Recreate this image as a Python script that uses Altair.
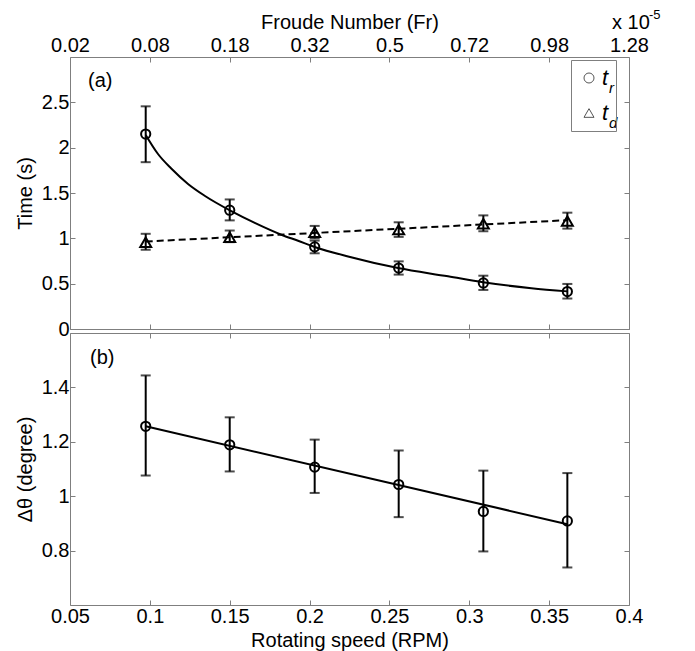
import json
import altair as alt
import pandas as pd

# ---------------- data ----------------
rpm = [0.0974, 0.1500, 0.2032, 0.2558, 0.3088, 0.3614]

t_r = [2.150, 1.310, 0.906, 0.672, 0.508, 0.413]
t_r_lo = [1.840, 1.198, 0.835, 0.600, 0.431, 0.336]
t_r_hi = [2.456, 1.429, 0.975, 0.746, 0.588, 0.497]

t_d = [0.958, 1.012, 1.067, 1.096, 1.162, 1.192]
t_d_lo = [0.874, 0.958, 1.000, 1.016, 1.078, 1.107]
t_d_hi = [1.050, 1.086, 1.137, 1.177, 1.253, 1.283]

t_r_fit_rpm = [0.0974, 0.1051, 0.1134, 0.1239, 0.1343, 0.1510, 0.1657, 0.1823,
               0.1928, 0.2032, 0.2241, 0.2554, 0.2867, 0.3086, 0.3389, 0.3614]
t_r_fit = [2.140, 1.930, 1.770, 1.600, 1.470, 1.300, 1.170, 1.040,
           0.973, 0.905, 0.800, 0.672, 0.581, 0.515, 0.450, 0.415]
t_d_fit_rpm = [0.0974, 0.3614]
t_d_fit = [0.965, 1.200]

dtheta = [1.257, 1.189, 1.107, 1.043, 0.944, 0.909]
dtheta_lo = [1.076, 1.091, 1.012, 0.923, 0.797, 0.738]
dtheta_hi = [1.444, 1.290, 1.208, 1.168, 1.094, 1.085]
dtheta_fit_rpm = [0.0974, 0.3614]
dtheta_fit = [1.257, 0.897]

series_names = ["t_r", "t_d"]
series_shapes = ["circle", "triangle-up"]

rpm_ticks = [0.05, 0.1, 0.15, 0.2, 0.25, 0.3, 0.35, 0.4]
rpm_tick_labels = ["0.05", "0.1", "0.15", "0.2", "0.25", "0.3", "0.35", "0.4"]
fr_tick_labels = ["0.02", "0.08", "0.18", "0.32", "0.5", "0.72", "0.98", "1.28"]
time_ticks = [0, 0.5, 1, 1.5, 2, 2.5]
time_tick_labels = ["0", "0.5", "1", "1.5", "2", "2.5"]
dtheta_ticks = [0.8, 1.0, 1.2, 1.4]
dtheta_tick_labels = ["0.8", "1", "1.2", "1.4"]

# ---------------- styling ----------------
FONT = "Liberation Sans"
GRAY = "#7f7f7f"
FS = 20
W, H = 559, 272


def axis(orient, values, labels=None, title=None, label_pad=1, title_pad=6):
    kw = dict(orient=orient, values=values, domain=False, grid=False, ticks=True,
              tickSize=5, offset=-5, tickColor=GRAY, tickWidth=1)
    if labels is None:
        kw["labels"] = False
    else:
        kw.update(labels=True,
                  labelExpr=f"{json.dumps(labels)}[indexof({json.dumps(values)}, datum.value)]",
                  labelFont=FONT, labelFontSize=FS, labelColor="black",
                  labelPadding=label_pad, labelFlush=False, labelOverlap=False)
    if title:
        kw.update(title=title, titleFont=FONT, titleFontSize=FS, titleFontWeight="normal",
                  titleColor="black", titlePadding=title_pad)
    else:
        kw["title"] = None
    return alt.Axis(**kw)


xs = alt.Scale(domain=[0.05, 0.4], nice=False, zero=False)
ys_top = alt.Scale(domain=[0, 3], nice=False, zero=False)
ys_bot = alt.Scale(domain=[0.6, 1.6], nice=False, zero=False)
one = pd.DataFrame({"k": [0]})


def txt(text, x, y, size=FS, italic=False, align="left", baseline="middle"):
    kw = dict(text=text, font=FONT, fontSize=size, align=align, baseline=baseline, color="black")
    if italic:
        kw["fontStyle"] = "italic"
    return alt.Chart(one).mark_text(**kw).encode(x=alt.value(x), y=alt.value(y))


# ---------------- top panel ----------------
top_df = pd.DataFrame({
    "rpm": rpm * 2,
    "time": t_r + t_d,
    "lo": t_r_lo + t_d_lo,
    "hi": t_r_hi + t_d_hi,
    "series": [series_names[0]] * len(rpm) + [series_names[1]] * len(rpm),
})
fit_tr_df = pd.DataFrame({"rpm": t_r_fit_rpm, "time": t_r_fit})
fit_td_df = pd.DataFrame({"rpm": t_d_fit_rpm, "time": t_d_fit})

fit_tr = alt.Chart(fit_tr_df).mark_line(color="black", strokeWidth=2, interpolate="monotone").encode(
    x=alt.X("rpm:Q", scale=xs, axis=None), y=alt.Y("time:Q", scale=ys_top, axis=None))
fit_td = alt.Chart(fit_td_df).mark_line(color="black", strokeWidth=2, strokeDash=[7, 4]).encode(
    x=alt.X("rpm:Q", scale=xs, axis=None), y=alt.Y("time:Q", scale=ys_top, axis=None))

bars_top = alt.Chart(top_df).mark_rule(color="black", strokeWidth=2).encode(
    x=alt.X("rpm:Q", scale=xs, axis=axis("bottom", rpm_ticks)),
    y=alt.Y("lo:Q", scale=ys_top, axis=axis("left", time_ticks, time_tick_labels, "Time (s)")),
    y2="hi:Q")
caps_top = alt.Chart(top_df).transform_fold(["lo", "hi"], as_=["end", "val"]).mark_tick(
    color="black", orient="horizontal", size=10, thickness=2).encode(
    x=alt.X("rpm:Q", scale=xs, axis=axis("top", rpm_ticks, fr_tick_labels, "Froude Number (Fr)",
                                         label_pad=2, title_pad=3)),
    y=alt.Y("val:Q", scale=ys_top, axis=axis("right", time_ticks)))

legend = alt.Legend(orient="none", legendX=501, legendY=3, title=None, padding=7,
                    strokeColor=GRAY, labelFont=FONT, labelFontStyle="italic",
                    labelFontSize=22, labelOffset=2, rowPadding=13, symbolSize=100,
                    symbolStrokeWidth=1, symbolStrokeColor="#555", symbolFillColor="transparent",
                    labelExpr="'t  '")
shape_enc = alt.Shape("series:N", scale=alt.Scale(domain=series_names, range=series_shapes), legend=legend)

pts_tr = alt.Chart(top_df).transform_filter(alt.datum.series == series_names[0]).mark_point(
    filled=False, color="black", strokeWidth=2, size=85, opacity=1).encode(
    x=alt.X("rpm:Q", scale=xs, axis=None), y=alt.Y("time:Q", scale=ys_top, axis=None), shape=shape_enc)
pts_td = alt.Chart(top_df).transform_filter(alt.datum.series == series_names[1]).mark_point(
    filled=False, color="black", strokeWidth=2, size=120, opacity=1).encode(
    x=alt.X("rpm:Q", scale=xs, axis=None), y=alt.Y("time:Q", scale=ys_top, axis=None), shape=shape_enc)

top = alt.layer(
    fit_tr, fit_td, bars_top, caps_top, pts_tr, pts_td,
    txt("(a)", 18, 24),
    txt("x 10", 542, -28, baseline="alphabetic"),
    txt("-5", 579, -42, size=13),
    txt("r", 539, 31, size=15, italic=True),
    txt("d", 539, 66, size=15, italic=True),
).resolve_axis(x="independent", y="independent").properties(width=W, height=H)

# ---------------- bottom panel ----------------
bot_df = pd.DataFrame({"rpm": rpm, "dtheta": dtheta, "lo": dtheta_lo, "hi": dtheta_hi})
fit_b_df = pd.DataFrame({"rpm": dtheta_fit_rpm, "dtheta": dtheta_fit})

fit_b = alt.Chart(fit_b_df).mark_line(color="black", strokeWidth=2).encode(
    x=alt.X("rpm:Q", scale=xs, axis=None), y=alt.Y("dtheta:Q", scale=ys_bot, axis=None))
bars_b = alt.Chart(bot_df).mark_rule(color="black", strokeWidth=2).encode(
    x=alt.X("rpm:Q", scale=xs, axis=axis("bottom", rpm_ticks, rpm_tick_labels, "Rotating speed (RPM)",
                                         label_pad=1, title_pad=4)),
    y=alt.Y("lo:Q", scale=ys_bot, axis=axis("left", dtheta_ticks, dtheta_tick_labels, "Δθ (degree)")),
    y2="hi:Q")
caps_b = alt.Chart(bot_df).transform_fold(["lo", "hi"], as_=["end", "val"]).mark_tick(
    color="black", orient="horizontal", size=10, thickness=2).encode(
    x=alt.X("rpm:Q", scale=xs, axis=axis("top", rpm_ticks)),
    y=alt.Y("val:Q", scale=ys_bot, axis=axis("right", dtheta_ticks)))
pts_b = alt.Chart(bot_df).mark_point(filled=False, color="black", strokeWidth=2, size=85, shape="circle",
                                     opacity=1).encode(
    x=alt.X("rpm:Q", scale=xs, axis=None), y=alt.Y("dtheta:Q", scale=ys_bot, axis=None))

bottom = alt.layer(
    fit_b, bars_b, caps_b, pts_b,
    txt("(b)", 20, 25),
).resolve_axis(x="independent", y="independent").properties(width=W, height=H)

chart = alt.vconcat(top, bottom, spacing=4, bounds="flush").properties(
    padding={"left": 6, "top": 0, "right": 5, "bottom": 5}
).configure_view(stroke=GRAY, strokeWidth=1)

chart.save("out.html", embed_options={"renderer": "svg", "actions": False})
